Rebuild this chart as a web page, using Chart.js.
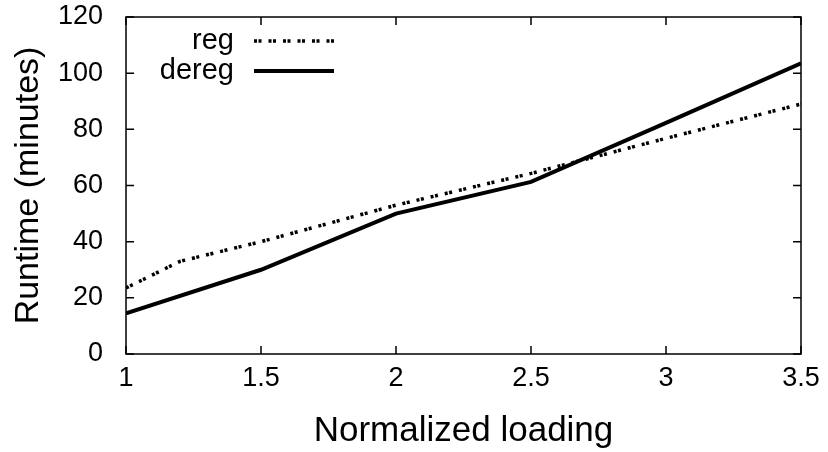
<!DOCTYPE html>
<html>
<head>
<meta charset="utf-8">
<script src="https://cdn.jsdelivr.net/npm/chart.js@4"></script>
<style>
  html, body { margin: 0; padding: 0; background: #fff; }
  #wrap { width: 828px; height: 452px; }
</style>
</head>
<body>
<div id="wrap"><canvas id="runtimeChart" width="828" height="452"></canvas></div>
<script>
// ── Data ──────────────────────────────────────────────
const regLoading     = [1, 1.2, 1.5, 2, 2.5, 3, 3.5];
const regRuntime     = [23.5, 33, 40, 53, 64.3, 76.8, 89];
const deregLoading   = [1, 1.5, 2, 2.5, 3, 3.5];
const deregRuntime   = [14.5, 30, 50, 61.3, 82.3, 103.5];
const xTickValues    = [1, 1.5, 2, 2.5, 3, 3.5];
const yTickValues    = [0, 20, 40, 60, 80, 100, 120];
const seriesNames    = ["reg", "dereg"];

const FONT = "'Liberation Sans', Arial, Helvetica, sans-serif";
const REG_DASH = [3, 1.5, 3, 7];

// ── Frame, inward mirror ticks and gnuplot-style key ──
const framePlugin = {
    id: "frame",
    afterDraw(chart) {
        const ctx = chart.ctx;
        const a = chart.chartArea;
        const xs = chart.scales.x, ys = chart.scales.y;
        const tick = 8;
        ctx.save();
        ctx.strokeStyle = "#000";
        ctx.lineWidth = 1.5;
        ctx.strokeRect(a.left, a.top, a.right - a.left, a.bottom - a.top);
        ctx.beginPath();
        xTickValues.forEach(v => {
            const px = xs.getPixelForValue(v);
            ctx.moveTo(px, a.bottom); ctx.lineTo(px, a.bottom - tick);
            ctx.moveTo(px, a.top);    ctx.lineTo(px, a.top + tick);
        });
        yTickValues.forEach(v => {
            const py = ys.getPixelForValue(v);
            ctx.moveTo(a.left, py);  ctx.lineTo(a.left + tick, py);
            ctx.moveTo(a.right, py); ctx.lineTo(a.right - tick, py);
        });
        ctx.stroke();

        // key: text right-aligned, sample line to the right
        const keyTextRight = a.left + 108;
        const sx0 = a.left + 128, sx1 = a.left + 208;
        const rows = [a.top + 24, a.top + 54];
        ctx.font = "29px " + FONT;
        ctx.fillStyle = "#000";
        ctx.textAlign = "right";
        ctx.textBaseline = "middle";
        chart.data.datasets.forEach((ds, i) => {
            const y = rows[i];
            ctx.fillText(ds.label, keyTextRight, y);
            ctx.beginPath();
            ctx.lineWidth = ds.borderWidth;
            ctx.setLineDash(ds.borderDash || []);
            ctx.moveTo(sx0, y); ctx.lineTo(sx1, y);
            ctx.stroke();
        });
        ctx.restore();
    }
};

new Chart(document.getElementById("runtimeChart").getContext("2d"), {
    type: "line",
    data: {
        datasets: [
            {
                label: seriesNames[0],
                data: regLoading.map((x, i) => ({ x: x, y: regRuntime[i] })),
                borderColor: "#000",
                borderWidth: 3.5,
                borderDash: REG_DASH,
                pointRadius: 0,
                tension: 0,
            },
            {
                label: seriesNames[1],
                data: deregLoading.map((x, i) => ({ x: x, y: deregRuntime[i] })),
                borderColor: "#000",
                borderWidth: 4,
                pointRadius: 0,
                tension: 0,
            }
        ]
    },
    options: {
        responsive: false,
        animation: false,
        devicePixelRatio: 1,
        layout: { padding: { top: 17, right: 27, left: 0, bottom: 0 } },
        plugins: {
            legend: { display: false },
            tooltip: { enabled: false }
        },
        scales: {
            x: {
                type: "linear",
                min: 1, max: 3.5,
                afterBuildTicks: s => { s.ticks = xTickValues.map(v => ({ value: v })); },
                afterFit: s => { s.height = 98; s.paddingLeft = 0; s.paddingRight = 0; },
                grid: { display: false, drawTicks: false },
                border: { display: false },
                ticks: {
                    color: "#000",
                    padding: 8,
                    maxRotation: 0,
                    font: { family: FONT, size: 27 },
                    callback: v => String(v)
                },
                title: {
                    display: true,
                    text: "Normalized loading",
                    color: "#000",
                    font: { family: FONT, size: 35 },
                    padding: 0
                }
            },
            y: {
                min: 0, max: 120,
                afterBuildTicks: s => { s.ticks = yTickValues.map(v => ({ value: v })); },
                afterFit: s => { s.width = 126; s.paddingTop = 0; s.paddingBottom = 0; },
                grid: { display: false, drawTicks: false },
                border: { display: false },
                ticks: {
                    color: "#000",
                    padding: 23,
                    font: { family: FONT, size: 27 },
                    callback: v => String(v)
                },
                title: {
                    display: true,
                    text: "Runtime (minutes)",
                    color: "#000",
                    font: { family: FONT, size: 34 },
                    padding: { top: 8, bottom: 0 }
                }
            }
        }
    },
    plugins: [framePlugin]
});
</script>
</body>
</html>
